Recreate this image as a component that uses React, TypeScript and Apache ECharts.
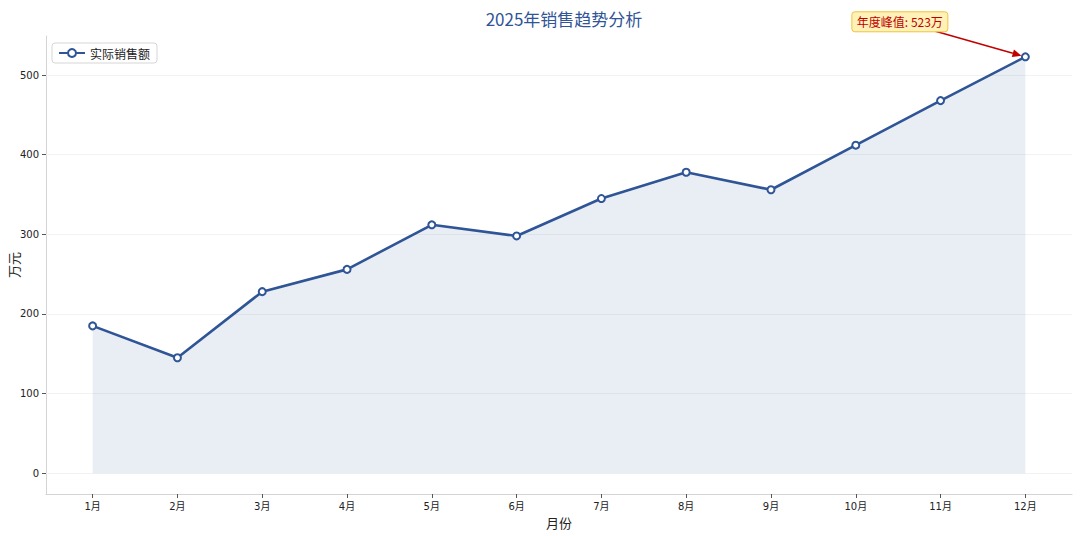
import { useEffect, useRef } from 'react';
import * as echarts from 'echarts';

const months = ['1月', '2月', '3月', '4月', '5月', '6月', '7月', '8月', '9月', '10月', '11月', '12月'];
const sales = [185, 145, 228, 256, 312, 298, 345, 378, 356, 412, 468, 523];
const yTicks = [0, 100, 200, 300, 400, 500];
const seriesName = '实际销售额';
const chartTitle = '2025年销售趋势分析';
const xName = '月份';
const yName = '万元';
const peakLabel = '年度峰值';

// annotation anchors in data coordinates
const annotTextAt = [9.52, 567];
const annotArrowFrom = [9.94, 555];

const LINE = '#2f5597';
const FONT = "'DejaVu Sans', 'Noto Sans CJK SC', sans-serif";
const CJK = "'Noto Sans CJK SC', 'DejaVu Sans', sans-serif";

export default function App() {
  const chartRef = useRef<HTMLDivElement>(null);

  useEffect(() => {
    if (!chartRef.current) return;
    const chart = echarts.init(chartRef.current, null, { renderer: 'svg' });

    const xIdx = months.map((_, i) => i);
    const yMax = Math.max(...sales);
    const pad = yMax * 0.05;

    chart.setOption({
      animation: false,
      backgroundColor: '#fff',
      title: {
        text: chartTitle,
        left: 559,
        top: 5,
        textAlign: 'center',
        textStyle: { fontSize: 17, fontWeight: 'normal', color: LINE, fontFamily: CJK },
      },
      legend: {
        data: [seriesName],
        left: 52,
        top: 43,
        itemWidth: 26,
        itemHeight: 10,
        padding: [4, 7, 4, 6],
        borderColor: '#d6d6d6',
        borderWidth: 1,
        borderRadius: 3,
        textStyle: { fontSize: 12, color: '#222', fontFamily: CJK },
      },
      grid: { left: 46, right: 8, top: 36, bottom: 42, containLabel: false, outerBoundsMode: 'none' },
      xAxis: {
        type: 'value',
        min: -0.55,
        max: months.length - 1 + 0.55,
        name: xName,
        nameLocation: 'middle',
        nameGap: 22,
        nameMoveOverlap: false,
        nameTextStyle: { fontSize: 13, color: '#222', fontFamily: CJK, verticalAlign: 'top' },
        axisLine: { show: true, onZero: false, lineStyle: { color: '#d4d4d4', width: 1 } },
        axisTick: { show: true, customValues: xIdx, length: 4, lineStyle: { color: '#555' } },
        axisLabel: {
          customValues: xIdx,
          formatter: (v: number) => months[v],
          fontSize: 10,
          color: '#222',
          margin: 7,
          fontFamily: FONT,
        },
        splitLine: { show: false },
      },
      yAxis: {
        type: 'value',
        min: -pad,
        max: yMax + pad,
        name: yName,
        nameLocation: 'middle',
        nameGap: 26,
        nameMoveOverlap: false,
        nameTextStyle: { fontSize: 13, color: '#222', fontFamily: CJK },
        axisLine: { show: true, onZero: false, lineStyle: { color: '#d4d4d4', width: 1 } },
        axisTick: { show: true, customValues: yTicks, length: 4, lineStyle: { color: '#555' } },
        axisLabel: {
          customValues: yTicks,
          fontSize: 10,
          color: '#222',
          margin: 7,
          fontFamily: FONT,
        },
        splitLine: { show: false },
      },
      series: [
        {
          name: 'grid',
          type: 'line',
          z: 1,
          data: sales.map((v, i) => [i, v]),
          showSymbol: false,
          lineStyle: { opacity: 0 },
          silent: true,
          markLine: {
            z: 1,
            silent: true,
            symbol: 'none',
            label: { show: false },
            lineStyle: { color: '#f2f2f2', type: 'solid', width: 1 },
            data: yTicks.map((v) => ({ yAxis: v })),
          },
        },
        {
          name: seriesName,
          type: 'line',
          z: 3,
          data: sales.map((v, i) => [i, v]),
          symbol: 'circle',
          symbolSize: 7,
          lineStyle: { color: LINE, width: 2.6 },
          itemStyle: { color: '#fff', borderColor: LINE, borderWidth: 2 },
          areaStyle: { color: 'rgba(47,85,151,0.15)' },
        },
      ],
    });

    // peak annotation
    const peakIdx = sales.indexOf(yMax);
    const p = chart.convertToPixel({ gridIndex: 0 }, [peakIdx, yMax]) as number[];
    const t = chart.convertToPixel({ gridIndex: 0 }, annotTextAt) as number[];
    const s = chart.convertToPixel({ gridIndex: 0 }, annotArrowFrom) as number[];
    const dx = p[0] - s[0];
    const dy = p[1] - s[1];
    const len = Math.sqrt(dx * dx + dy * dy);
    const ux = dx / len;
    const uy = dy / len;
    const tip = [p[0] - ux * 4, p[1] - uy * 4];
    const base = [tip[0] - ux * 9, tip[1] - uy * 9];
    const nx = -uy;
    const ny = ux;
    const labelText = `${peakLabel}: ${yMax}万`;

    chart.setOption({
      graphic: [
        {
          type: 'line',
          silent: true,
          shape: { x1: s[0], y1: s[1], x2: base[0], y2: base[1] },
          style: { stroke: '#c00000', lineWidth: 1.5 },
          z: 10,
        },
        {
          type: 'polygon',
          silent: true,
          shape: {
            points: [
              tip,
              [base[0] + nx * 4, base[1] + ny * 4],
              [base[0] - nx * 4, base[1] - ny * 4],
            ],
          },
          style: { fill: '#c00000' },
          z: 10,
        },
        {
          type: 'rect',
          silent: true,
          shape: { x: t[0] - 48, y: t[1] - 10, width: 96, height: 20, r: 3 },
          style: { fill: '#fff2b8', stroke: '#f0c43c', lineWidth: 1 },
          z: 10,
        },
        {
          type: 'text',
          silent: true,
          x: t[0],
          y: t[1],
          style: {
            text: labelText,
            align: 'center',
            verticalAlign: 'middle',
            fontSize: 12,
            fill: '#c00000',
            fontFamily: CJK,
          },
          z: 11,
        },
      ],
    });

    return () => {
      chart.dispose();
    };
  }, []);

  return (
    <div
      ref={chartRef}
      style={{ position: 'fixed', left: 0, top: 0, width: '1080px', height: '536px' }}
    />
  );
}
